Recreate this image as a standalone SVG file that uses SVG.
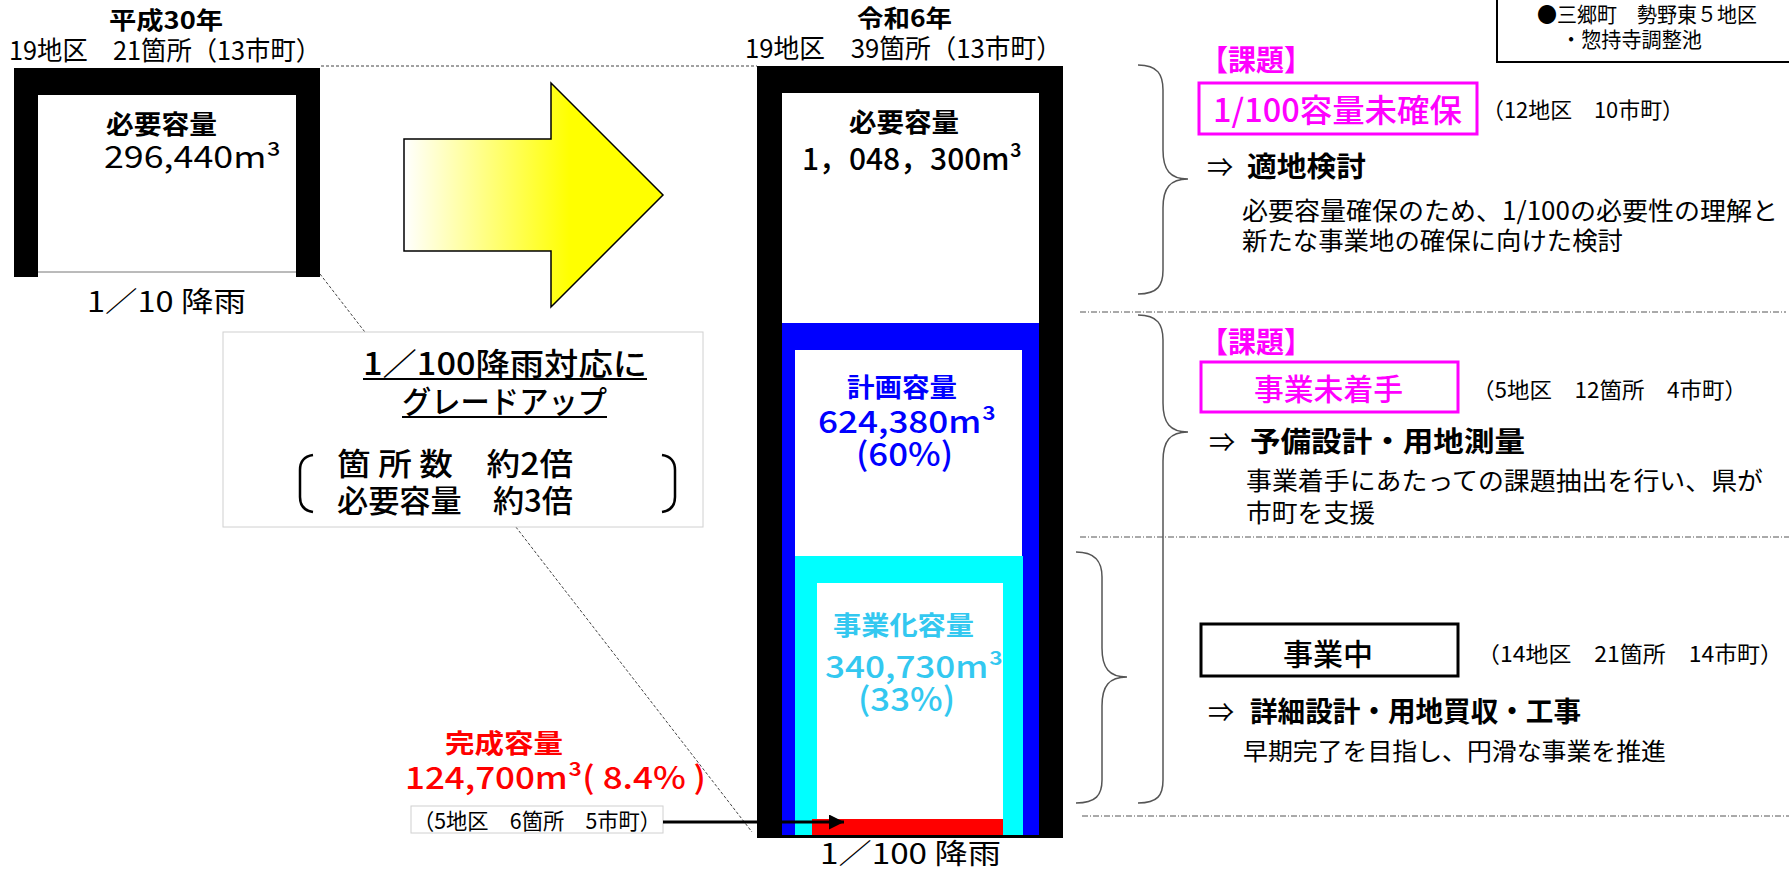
<svg xmlns="http://www.w3.org/2000/svg" width="1789" height="870" viewBox="0 0 1789 870">
<style>
text{font-family:"Noto Sans CJK JP","Noto Sans",sans-serif;fill:#000}
.b{font-weight:bold}
.m{font-weight:500}
.mg{fill:#ff00ff}
.bl{fill:#0000ff}
.lb{fill:#33c8f0}
.rd{fill:#ff0000}
.brace{fill:none;stroke:#555;stroke-width:1.5}
.dd{fill:none;stroke:#555;stroke-width:1;stroke-dasharray:6 2 1 2}
.dash{fill:none;stroke:#444;stroke-width:1;stroke-dasharray:3 2}
</style>
<defs>
<linearGradient id="yg" gradientUnits="userSpaceOnUse" x1="404" y1="0" x2="570" y2="0">
<stop offset="0" stop-color="#ffffff"/>
<stop offset="1" stop-color="#ffff00"/>
</linearGradient>
<marker id="ah" viewBox="0 0 10 10" refX="10" refY="5" markerWidth="7" markerHeight="5" markerUnits="strokeWidth" orient="auto">
<path d="M0,0 L10,5 L0,10 Z" fill="#000"/>
</marker>
</defs>
<rect width="1789" height="870" fill="#fff"/>

<g id="connectors">
<line class="dash" x1="321" y1="66" x2="757" y2="66"/>
<line class="dash" x1="320" y1="274" x2="752" y2="832"/>
<line class="dd" x1="1080" y1="312" x2="1786" y2="312"/>
<line class="dd" x1="1080" y1="537" x2="1789" y2="537"/>
<line class="dd" x1="1082" y1="816" x2="1789" y2="816"/>
</g>

<g id="heisei">
<text class="b" x="109" y="29" font-size="24" textLength="114" lengthAdjust="spacingAndGlyphs">平成30年</text>
<text x="9" y="60" font-size="26" textLength="312" lengthAdjust="spacingAndGlyphs">19地区　21箇所（13市町）</text>
<rect x="14" y="68" width="306" height="209" fill="#000"/>
<rect x="38" y="95" width="258" height="182" fill="#fff"/>
<line x1="38" y1="272" x2="296" y2="272" stroke="#777" stroke-width="1"/>
<text class="b" x="106" y="134" font-size="26" textLength="111" lengthAdjust="spacingAndGlyphs">必要容量</text>
<text x="104" y="168" font-size="30" textLength="177" lengthAdjust="spacingAndGlyphs">296,440m³</text>
<text x="87" y="312" font-size="28" textLength="159" lengthAdjust="spacingAndGlyphs">1／10 降雨</text>
</g>

<g id="big-arrow">
<polygon points="404,139 551,139 551,83 663,195 551,307 551,251 404,251" fill="url(#yg)" stroke="#000" stroke-width="1.5"/>
</g>

<g id="upgrade-note">
<rect x="223" y="332" width="480" height="195" fill="#fff" stroke="#d0d0d0" stroke-width="1"/>
<text class="m" x="363" y="375" font-size="31" textLength="284" lengthAdjust="spacingAndGlyphs">1／100降雨対応に</text>
<line x1="363" y1="379" x2="647" y2="379" stroke="#000" stroke-width="2"/>
<text class="m" x="402" y="413" font-size="31" textLength="205" lengthAdjust="spacingAndGlyphs">グレードアップ</text>
<line x1="402" y1="417" x2="607" y2="417" stroke="#000" stroke-width="2"/>
<text class="m" x="337" y="475" font-size="31" textLength="236" lengthAdjust="spacingAndGlyphs">箇 所 数　約2倍</text>
<text class="m" x="337" y="512" font-size="31" textLength="236" lengthAdjust="spacingAndGlyphs">必要容量　約3倍</text>
<path d="M313,455 Q300,457 300,470 L300,497 Q300,510 313,512" fill="none" stroke="#000" stroke-width="2.5"/>
<path d="M662,455 Q675,457 675,470 L675,497 Q675,510 662,512" fill="none" stroke="#000" stroke-width="2.5"/>
</g>

<g id="reiwa">
<text class="b" x="857" y="27" font-size="24" textLength="95" lengthAdjust="spacingAndGlyphs">令和6年</text>
<text x="745" y="58" font-size="26" textLength="317" lengthAdjust="spacingAndGlyphs">19地区　39箇所（13市町）</text>
<rect x="757" y="66" width="306" height="772" fill="#000"/>
<rect x="782" y="93" width="257" height="230" fill="#fff"/>
<rect x="782" y="323" width="257" height="512" fill="#0000ff"/>
<rect x="795" y="350" width="227" height="206" fill="#fff"/>
<rect x="795" y="556" width="228" height="279" fill="#00ffff"/>
<rect x="817" y="583" width="186" height="236" fill="#fff"/>
<rect x="812" y="819" width="191" height="16" fill="#ff0000"/>
<text class="b" x="849" y="132" font-size="26" textLength="110" lengthAdjust="spacingAndGlyphs">必要容量</text>
<text class="m" x="802" y="170" font-size="30" textLength="220" lengthAdjust="spacingAndGlyphs">1，048，300m³</text>
<text class="b bl" x="847" y="397" font-size="26" textLength="110" lengthAdjust="spacingAndGlyphs">計画容量</text>
<text class="m bl" x="818" y="433" font-size="31" textLength="178" lengthAdjust="spacingAndGlyphs">624,380m³</text>
<text class="m bl" x="856" y="466" font-size="32" textLength="97" lengthAdjust="spacingAndGlyphs">(60%)</text>
<text class="b lb" x="833" y="635" font-size="26" textLength="141" lengthAdjust="spacingAndGlyphs">事業化容量</text>
<text class="m lb" x="825" y="678" font-size="31" textLength="178" lengthAdjust="spacingAndGlyphs">340,730m³</text>
<text class="m lb" x="858" y="711" font-size="32" textLength="97" lengthAdjust="spacingAndGlyphs">(33%)</text>
<text x="820" y="864" font-size="28" textLength="181" lengthAdjust="spacingAndGlyphs">1／100 降雨</text>
</g>

<g id="completed">
<text class="b rd" x="445" y="753" font-size="26" textLength="118" lengthAdjust="spacingAndGlyphs">完成容量</text>
<text class="m rd" x="405" y="789" font-size="31" textLength="301" lengthAdjust="spacingAndGlyphs">124,700m³( 8.4% )</text>
<rect x="411" y="806" width="252" height="27" fill="#fff" stroke="#d0d0d0" stroke-width="1"/>
<text x="413" y="829" font-size="22" textLength="248" lengthAdjust="spacingAndGlyphs">（5地区　6箇所　5市町）</text>
</g>

<g id="completed-arrow">
<line x1="663" y1="822" x2="844" y2="822" stroke="#000" stroke-width="3" marker-end="url(#ah)"/>
</g>

<g id="example-note">
<rect x="1497" y="-5" width="300" height="67" fill="#fff" stroke="#000" stroke-width="2"/>
<text x="1537" y="22" font-size="21" textLength="220" lengthAdjust="spacingAndGlyphs">●三郷町　勢野東５地区</text>
<text x="1561" y="47" font-size="21" textLength="141" lengthAdjust="spacingAndGlyphs">・惣持寺調整池</text>
</g>

<g id="issue-capacity">
<path class="brace" d="M1138,65 C1158,65 1163,75 1163,90 L1163,150 C1163,170 1170,179 1188,179 C1170,179 1163,188 1163,208 L1163,270 C1163,285 1158,294 1138,294"/>
<text class="b mg" x="1200" y="71" font-size="29" textLength="112" lengthAdjust="spacingAndGlyphs">【課題】</text>
<rect x="1199" y="83" width="278" height="51" fill="#fff" stroke="#ff00ff" stroke-width="3"/>
<text class="m mg" x="1213" y="122" font-size="32" textLength="249" lengthAdjust="spacingAndGlyphs">1/100容量未確保</text>
<text x="1482" y="118" font-size="22" textLength="202" lengthAdjust="spacingAndGlyphs">（12地区　10市町）</text>
<text x="1207" y="177" font-size="26">⇒</text>
<text class="b" x="1247" y="177" font-size="28" textLength="119" lengthAdjust="spacingAndGlyphs">適地検討</text>
<text x="1242" y="220" font-size="25" textLength="536" lengthAdjust="spacingAndGlyphs">必要容量確保のため、1/100の必要性の理解と</text>
<text x="1242" y="250" font-size="25" textLength="381" lengthAdjust="spacingAndGlyphs">新たな事業地の確保に向けた検討</text>
</g>

<g id="issue-unstarted">
<path class="brace" d="M1138,315 C1158,315 1163,325 1163,340 L1163,403 C1163,423 1170,432 1188,432 C1170,432 1163,441 1163,461 L1163,780 C1163,795 1158,803 1138,803"/>
<text class="b mg" x="1200" y="353" font-size="29" textLength="112" lengthAdjust="spacingAndGlyphs">【課題】</text>
<rect x="1201" y="362" width="257" height="50" fill="#fff" stroke="#ff00ff" stroke-width="3"/>
<text class="m mg" x="1254" y="400" font-size="30" textLength="149" lengthAdjust="spacingAndGlyphs">事業未着手</text>
<text x="1472" y="398" font-size="22" textLength="275" lengthAdjust="spacingAndGlyphs">（5地区　12箇所　4市町）</text>
<text x="1209" y="452" font-size="26">⇒</text>
<text class="b" x="1250" y="452" font-size="28" textLength="275" lengthAdjust="spacingAndGlyphs">予備設計・用地測量</text>
<text x="1246" y="490" font-size="25" textLength="517" lengthAdjust="spacingAndGlyphs">事業着手にあたっての課題抽出を行い、県が</text>
<text x="1246" y="522" font-size="25" textLength="129" lengthAdjust="spacingAndGlyphs">市町を支援</text>
</g>

<g id="in-progress">
<path class="brace" d="M1076,552 C1096,552 1102,562 1102,577 L1102,648 C1102,668 1109,677 1127,677 C1109,677 1102,686 1102,706 L1102,780 C1102,795 1096,803 1076,803"/>
<rect x="1201" y="624" width="257" height="52" fill="#fff" stroke="#000" stroke-width="3"/>
<text class="m" x="1283" y="665" font-size="30" textLength="90" lengthAdjust="spacingAndGlyphs">事業中</text>
<text x="1477" y="662" font-size="22" textLength="306" lengthAdjust="spacingAndGlyphs">（14地区　21箇所　14市町）</text>
<text x="1208" y="722" font-size="26">⇒</text>
<text class="b" x="1250" y="722" font-size="28" textLength="331" lengthAdjust="spacingAndGlyphs">詳細設計・用地買収・工事</text>
<text x="1243" y="760" font-size="24" textLength="423" lengthAdjust="spacingAndGlyphs">早期完了を目指し、円滑な事業を推進</text>
</g>
</svg>
